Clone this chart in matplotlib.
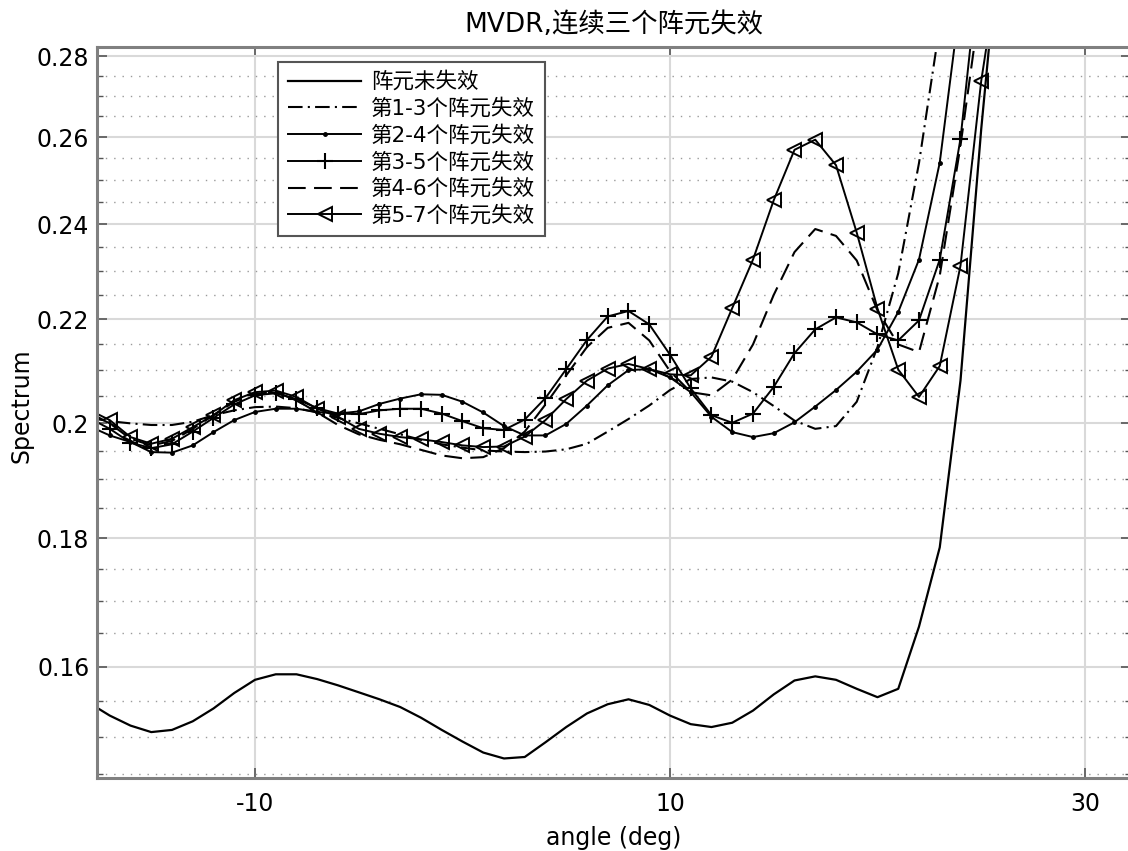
import matplotlib
matplotlib.use('Agg')
import matplotlib.pyplot as plt
from matplotlib.ticker import FixedLocator, FixedFormatter, NullFormatter, NullLocator

plt.rcParams['font.family'] = ['DejaVu Sans', 'Noto Sans CJK SC']
plt.rcParams['axes.unicode_minus'] = False

# angle grid (deg)
angles = list(range(-18, 28))

# 阵元未失效
no_fail = [0.1548, 0.1530, 0.1516, 0.1507, 0.1510, 0.1522, 0.1540, 0.1562, 0.1581, 0.1589,
           0.1589, 0.1582, 0.1573, 0.1563, 0.1553, 0.1542, 0.1527, 0.1510, 0.1494, 0.1479,
           0.1471, 0.1473, 0.1493, 0.1514, 0.1533, 0.1546, 0.1553, 0.1545, 0.1530, 0.1518,
           0.1514, 0.1520, 0.1537, 0.1560, 0.1580, 0.1586, 0.1581, 0.1568, 0.1556, 0.1568,
           0.1660, 0.1785, 0.2080, 0.2620, 0.3200, 0.4000]
# 第1-3个阵元失效
fail_1_3 = [0.2010, 0.2004, 0.2000, 0.1997, 0.1997, 0.2003, 0.2015, 0.2024, 0.2030, 0.2031,
            0.2028, 0.2020, 0.2010, 0.2000, 0.1990, 0.1980, 0.1970, 0.1962, 0.1956, 0.1951,
            0.1949, 0.1948, 0.1949, 0.1953, 0.1963, 0.1985, 0.2008, 0.2033, 0.2062, 0.2083,
            0.2086, 0.2078, 0.2058, 0.2032, 0.2005, 0.1990, 0.1995, 0.2040, 0.2145, 0.2295,
            0.2539, 0.2880, 0.3300, 0.3800, 0.4400, 0.5000]
# 第2-4个阵元失效
fail_2_4 = [0.1995, 0.1978, 0.1966, 0.1948, 0.1947, 0.1960, 0.1984, 0.2006, 0.2021, 0.2027,
            0.2027, 0.2021, 0.2018, 0.2022, 0.2036, 0.2046, 0.2054, 0.2053, 0.2040, 0.2020,
            0.1995, 0.1978, 0.1978, 0.1999, 0.2033, 0.2071, 0.2100, 0.2102, 0.2086, 0.2058,
            0.2012, 0.1984, 0.1975, 0.1982, 0.2002, 0.2031, 0.2062, 0.2097, 0.2140, 0.2215,
            0.2324, 0.2540, 0.2950, 0.3400, 0.4000, 0.4600]
# 第3-5个阵元失效
fail_3_5 = [0.2010, 0.1990, 0.1965, 0.1955, 0.1962, 0.1985, 0.2010, 0.2035, 0.2052, 0.2056,
            0.2045, 0.2028, 0.2018, 0.2017, 0.2024, 0.2027, 0.2027, 0.2018, 0.2004, 0.1991,
            0.1988, 0.2007, 0.2047, 0.2102, 0.2159, 0.2206, 0.2217, 0.2190, 0.2130, 0.2065,
            0.2015, 0.2001, 0.2018, 0.2068, 0.2133, 0.2180, 0.2204, 0.2194, 0.2170, 0.2158,
            0.2198, 0.2324, 0.2596, 0.3100, 0.3700, 0.4300]
# 第4-6个阵元失效
fail_4_6 = [0.2020, 0.2000, 0.1972, 0.1960, 0.1968, 0.1990, 0.2015, 0.2040, 0.2055, 0.2058,
            0.2043, 0.2020, 0.1997, 0.1980, 0.1970, 0.1962, 0.1952, 0.1942, 0.1937, 0.1939,
            0.1955, 0.1985, 0.2035, 0.2090, 0.2145, 0.2183, 0.2193, 0.2158, 0.2098, 0.2058,
            0.2052, 0.2082, 0.2150, 0.2250, 0.2340, 0.2390, 0.2375, 0.2322, 0.2218, 0.2150,
            0.2135, 0.2290, 0.2580, 0.2960, 0.3500, 0.4100]
# 第5-7个阵元失效
fail_5_7 = [0.2025, 0.2006, 0.1975, 0.1963, 0.1972, 0.1993, 0.2015, 0.2043, 0.2058, 0.2061,
            0.2049, 0.2027, 0.2012, 0.1990, 0.1981, 0.1975, 0.1971, 0.1966, 0.1960, 0.1957,
            0.1958, 0.1976, 0.2006, 0.2045, 0.2080, 0.2103, 0.2112, 0.2102, 0.2092, 0.2090,
            0.2126, 0.2223, 0.2324, 0.2454, 0.2570, 0.2594, 0.2534, 0.2382, 0.2222, 0.2101,
            0.2049, 0.2108, 0.2311, 0.2738, 0.3100, 0.3600]

labels = ['阵元未失效', '第1-3个阵元失效', '第2-4个阵元失效',
          '第3-5个阵元失效', '第4-6个阵元失效', '第5-7个阵元失效']
xticks = [-10, 10, 30]
yticks = [0.16, 0.18, 0.2, 0.22, 0.24, 0.26, 0.28]
yticklabels = ['0.16', '0.18', '0.2', '0.22', '0.24', '0.26', '0.28']
yminor = [0.145, 0.15, 0.155, 0.165, 0.17, 0.175, 0.185, 0.19, 0.195, 0.205, 0.21, 0.215,
          0.225, 0.23, 0.235, 0.245, 0.25, 0.255, 0.265, 0.27, 0.275]

fig = plt.figure(figsize=(11.28, 8.51), dpi=100)
ax = fig.add_axes([97 / 1128, 73 / 851, 1034 / 1128, 731 / 851])
ax.set_yscale('log')

ax.plot(angles, no_fail, color='k', lw=1.6, label=labels[0])
ax.plot(angles, fail_1_3, color='k', lw=1.5, ls=(0, (7, 2.5, 1, 2.5)), label=labels[1])
ax.plot(angles, fail_2_4, color='k', lw=1.4, marker='.', ms=5, label=labels[2])
ax.plot(angles, fail_3_5, color='k', lw=1.4, marker='+', ms=11, mew=1.5, label=labels[3])
ax.plot(angles, fail_4_6, color='k', lw=1.5, ls=(0, (8.5, 4)), label=labels[4])
ax.plot(angles, fail_5_7, color='k', lw=1.4, marker='<', ms=10, mfc='none', mew=1.4,
        label=labels[5])

ax.set_xlim(-17.614, 32.217)
ax.set_ylim(0.14449, 0.2824)

ax.xaxis.set_major_locator(FixedLocator(xticks))
ax.xaxis.set_minor_locator(NullLocator())
ax.yaxis.set_major_locator(FixedLocator(yticks))
ax.yaxis.set_major_formatter(FixedFormatter(yticklabels))
ax.yaxis.set_minor_locator(FixedLocator(yminor))
ax.yaxis.set_minor_formatter(NullFormatter())

ax.set_axisbelow(True)
ax.grid(which='major', color='#d9d9d9', lw=1.5, ls='-')
ax.yaxis.grid(which='minor', color='#9a9a9a', lw=1.0, ls=(0, (1, 5)))

ax.tick_params(which='both', direction='in', top=True, right=True, color='#555555')
ax.tick_params(which='major', length=7, width=1.2, labelsize=17)
ax.tick_params(which='minor', length=4, width=1.0)
ax.tick_params(axis='x', pad=10)
ax.tick_params(axis='y', pad=5.5)
for s in ax.spines.values():
    s.set_color('#808080')
    s.set_linewidth(2.2)

ax.set_title('MVDR,连续三个阵元失效', fontsize=19, pad=10.5)
ax.set_xlabel('angle (deg)', fontsize=17)
ax.xaxis.set_label_coords(0.5, -0.066)
ax.set_ylabel('Spectrum', fontsize=17)
ax.yaxis.set_label_coords(-0.061, 0.51)

leg = ax.legend(loc='upper left', bbox_to_anchor=(0.1755, 0.98), borderaxespad=0,
                fontsize=15.5, handlelength=3.4, handletextpad=0.45, borderpad=0.45,
                labelspacing=0.28, fancybox=False, edgecolor='#555555', framealpha=1,
                numpoints=1)
leg.get_frame().set_linewidth(1.5)

fig.savefig('out.png', dpi=100)
plt.close()
